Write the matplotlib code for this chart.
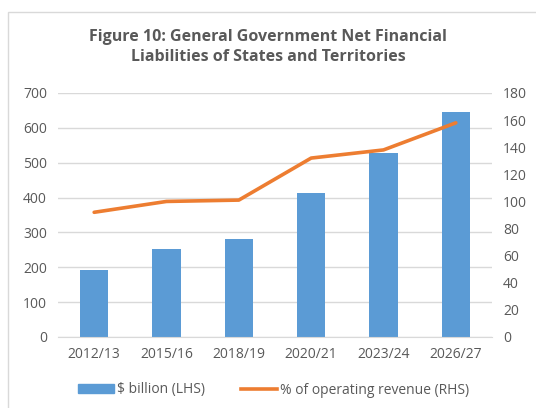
import matplotlib

matplotlib.use("Agg")
import matplotlib.pyplot as plt
from matplotlib.patches import Rectangle
from matplotlib.lines import Line2D

plt.rcParams["font.family"] = ["Open Sans", "DejaVu Sans"]

years = ["2012/13", "2015/16", "2018/19", "2020/21", "2023/24", "2026/27"]
billions = [192, 252, 282, 412, 527, 645]
pct_revenue = [92, 100, 101, 132, 138, 158]

BLUE = "#5b9bd5"
ORANGE = "#ed7d31"
TEXT = "#595959"
GRID = "#d9d9d9"

fig = plt.figure(figsize=(5.36, 4.08), dpi=100)
fig.patches.append(Rectangle((8 / 536, -0.01), 1.1, 1 - 12 / 408 + 0.01,
                             transform=fig.transFigure, fill=False,
                             edgecolor="#d9d9d9", linewidth=1))

ax = fig.add_axes([58 / 536, 1 - 337 / 408, 434 / 536, 244 / 408])
x = range(len(years))
ax.bar(x, billions, width=0.39, color=BLUE, zorder=2)
ax.set_xlim(-0.5, len(years) - 0.5)
ax.set_ylim(0, 700)
ax.set_yticks(range(0, 701, 100))
ax.set_xticks(list(x))
ax.set_xticklabels(years)
ax.grid(axis="y", color=GRID, linewidth=1, zorder=0)
ax.set_axisbelow(True)
for side in ("top", "right", "left"):
    ax.spines[side].set_visible(False)
ax.spines["bottom"].set_color(GRID)
ax.tick_params(axis="both", length=0, labelsize=10, colors=TEXT, pad=8)
ax.tick_params(axis="x", pad=7)

ax2 = ax.twinx()
ax2.plot(list(x), pct_revenue, color=ORANGE, linewidth=2.6,
         solid_capstyle="round", zorder=3)
ax2.set_ylim(0, 180)
ax2.set_yticks(range(0, 181, 20))
for side in ("top", "right", "left", "bottom"):
    ax2.spines[side].set_visible(False)
ax2.tick_params(axis="y", length=0, labelsize=10, colors=TEXT, pad=8)

fig.text(0.5, 1 - 47 / 408,
         "Figure 10: General Government Net Financial\nLiabilities of States and Territories",
         ha="center", va="center", fontsize=11.5, fontweight="bold",
         color=TEXT, linespacing=1.35)

handles = [Rectangle((0, 0), 1, 1, color=BLUE),
           Line2D([0], [0], color=ORANGE, linewidth=2.6)]
fig.legend(handles, ["$ billion (LHS)", "% of operating revenue (RHS)"],
           loc="center", bbox_to_anchor=(0.51, 1 - 390 / 408), ncol=2,
           frameon=False, fontsize=10, labelcolor=TEXT, handlelength=2.6,
           handleheight=0.6, columnspacing=2.6, handletextpad=0.2)

fig.savefig("out.png", dpi=100)
